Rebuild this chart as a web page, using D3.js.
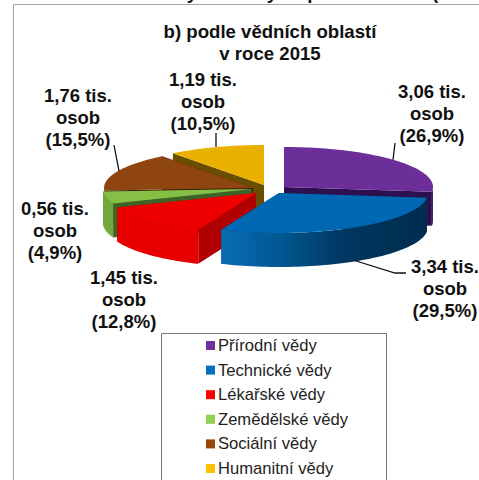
<!DOCTYPE html>
<html>
<head>
<meta charset="utf-8">
<script src="https://cdn.jsdelivr.net/npm/d3@7"></script>
<style>
  html, body { margin: 0; padding: 0; background: #fff; }
  svg { display: block; }
  text { font-family: "Liberation Sans", Arial, sans-serif; fill: #111; }
  .lbl { font-weight: bold; font-size: 18.5px; text-anchor: middle; }
  .ttl { font-weight: bold; font-size: 18.6px; text-anchor: middle; }
  .leg { font-size: 16.6px; fill: #222; }
</style>
</head>
<body>
<script>
const categories = ["Přírodní vědy", "Technické vědy", "Lékařské vědy", "Zemědělské vědy", "Sociální vědy", "Humanitní vědy"];
const values = [3.06, 3.34, 1.45, 0.56, 1.76, 1.19];
const shares = ["26,9", "29,5", "12,8", "4,9", "15,5", "10,5"];
const valueLabels = ["3,06", "3,34", "1,45", "0,56", "1,76", "1,19"];

const legendColors = ["#7030a0", "#0070c0", "#ff0000", "#92d050", "#984807", "#ffc000"];
const topColors = ["#6c2e98", "#0068b2", "#ee0000", "#86bf45", "#8f4510", "#e9b000"];
const outerColors = ["#4a1f70", "#00508c", "#e80000", "#74a83c", "#6e3408", "#a07800"];
const wallColors = ["#2e0f50", "#003a66", "#b00000", "#3f6326", "#3a1a02", "#6a4e00"];

// apex of every exploded slice
const apexes = [[284, 187], [279, 193], [256, 193], [252, 189], [253, 188], [264, 185]];
const labelPos = [[432, 98], [445, 273], [124, 284], [55, 215], [78, 102], [203, 86]];
const leaders = [
  [[395, 143], [393, 160]],
  [[353, 260], [395, 273], [406, 273]],
  null,
  null,
  [[114, 145], [119, 171]],
  [[216, 133], [216, 147]]
];
const drawOrder = [5, 4, 0, 3, 2, 1];

// only the tails of the heading above survive at the top of the crop
const cutGlyphs = ["y", "y", "p", "("];
const cutGlyphX = [192, 272, 313, 435];

const width = 479, height = 480;
const rx = 149, ry = 40, depth = 34;

const svg = d3.select("body").append("svg")
  .attr("width", width).attr("height", height);

svg.append("path")
  .attr("d", "M13.5,480V4.5H479")
  .attr("fill", "none").attr("stroke", "#a6a6a6").attr("stroke-width", 1);

cutGlyphs.forEach((c, i) => {
  svg.append("text").attr("class", "ttl").attr("x", cutGlyphX[i]).attr("y", -1).text(c);
});

svg.append("text").attr("class", "ttl").attr("x", 270).attr("y", 38).text("b) podle vědních oblastí");
svg.append("text").attr("class", "ttl").attr("x", 270).attr("y", 60).text("v roce 2015");

const defs = svg.append("defs");
const pie = d3.pie().sort(null).value(d => d);
const arcs = pie(values);

function pt(i, a, dy) {
  const [ax, ay] = apexes[i];
  return [ax + rx * Math.sin(a), ay - ry * Math.cos(a) + (dy || 0)];
}

function rimPoints(i, a0, a1, dy) {
  return d3.range(0, 61).map(k => pt(i, a0 + (a1 - a0) * k / 60, dy));
}

// blue rim shades from left to right
const bluePts = rimPoints(1, arcs[1].startAngle, arcs[1].endAngle);
const blueGrad = defs.append("linearGradient").attr("id", "blueWall")
  .attr("gradientUnits", "userSpaceOnUse")
  .attr("x1", d3.min(bluePts, d => d[0])).attr("x2", d3.max(bluePts, d => d[0]))
  .attr("y1", 0).attr("y2", 0);
blueGrad.append("stop").attr("offset", "0").attr("stop-color", "#0a6db5");
blueGrad.append("stop").attr("offset", "0.3").attr("stop-color", "#00568f");
blueGrad.append("stop").attr("offset", "0.6").attr("stop-color", "#003760");
blueGrad.append("stop").attr("offset", "1").attr("stop-color", "#002c50");

const line = d3.line();
const g = svg.append("g");

drawOrder.forEach(i => {
  const a0 = arcs[i].startAngle, a1 = arcs[i].endAngle;
  const [ax, ay] = apexes[i];

  // walls that run from the apex out to the rim
  [a0, a1].forEach(a => {
    const p = pt(i, a);
    g.append("path")
      .attr("d", line([[ax, ay], p, [p[0], p[1] + depth], [ax, ay + depth]]) + "Z")
      .attr("fill", wallColors[i]);
  });

  // outer rim, only the part facing the viewer
  const lo = Math.max(a0, Math.PI / 2), hi = Math.min(a1, Math.PI * 1.5);
  if (lo < hi) {
    const top = rimPoints(i, lo, hi);
    const bottom = rimPoints(i, lo, hi, depth).reverse();
    g.append("path")
      .attr("d", line(top.concat(bottom)) + "Z")
      .attr("fill", i === 1 ? "url(#blueWall)" : outerColors[i]);
  }

  // top face
  g.append("path")
    .attr("d", line([[ax, ay]].concat(rimPoints(i, a0, a1))) + "Z")
    .attr("fill", topColors[i]);
});

leaders.forEach(l => {
  if (!l) return;
  svg.append("path").attr("d", line(l)).attr("fill", "none")
    .attr("stroke", "#111").attr("stroke-width", 1.3);
});

values.forEach((v, i) => {
  const [x, y] = labelPos[i];
  const t = svg.append("text").attr("class", "lbl").attr("x", x).attr("y", y);
  [valueLabels[i] + " tis.", "osob", "(" + shares[i] + "%)"].forEach((s, k) => {
    t.append("tspan").attr("x", x).attr("dy", k ? 22 : 0).text(s);
  });
});

// legend box, runs off the bottom of the crop
svg.append("path")
  .attr("d", "M161.5,480V333.5H386.5V480")
  .attr("fill", "#fff").attr("stroke", "#777").attr("stroke-width", 1);

const yLegend = d3.scalePoint().domain(categories).range([345.5, 468.5]);
const leg = svg.selectAll(".item").data(categories).join("g").attr("class", "item");
leg.append("rect")
  .attr("x", 206).attr("y", d => yLegend(d) - 4.5)
  .attr("width", 9).attr("height", 9)
  .attr("fill", (d, i) => legendColors[i]);
leg.append("text").attr("class", "leg")
  .attr("x", 218).attr("y", d => yLegend(d) + 5.5)
  .text(d => d);
</script>
</body>
</html>
